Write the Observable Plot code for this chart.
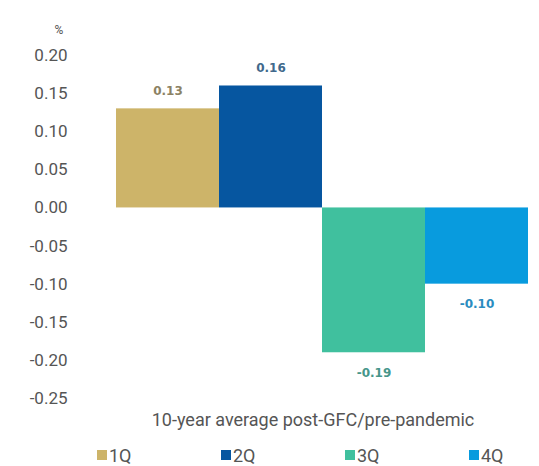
<!DOCTYPE html>
<html>
<head>
<meta charset="utf-8">
<script src="https://cdn.jsdelivr.net/npm/d3@7"></script>
<script src="https://cdn.jsdelivr.net/npm/@observablehq/plot@0.6"></script>
<style>
  body { margin: 0; background: #fff; font-family: Roboto, sans-serif; }
  #chart { width: 539px; }
  .qleg-swatches {
    font-family: Roboto, sans-serif;
    font-size: 18px;
    color: #555;
    margin: 0 0 0 97px;
    min-height: 0;
    height: 30px;
    flex-wrap: nowrap;
    align-items: center;
  }
  .qleg-swatches .qleg-swatch { flex: 0 0 auto; width: 124px; margin-right: 0; }
  .qleg-swatches .qleg-swatch:last-child { width: 50px; }
  .qleg-swatch > svg { margin-right: 2px; }
</style>
</head>
<body>
<div id="chart"></div>
<script>
// Quarterly deviation, 10-year average post-GFC / pre-pandemic (%)
const quarters = ["1Q", "2Q", "3Q", "4Q"];
const values = [0.13, 0.16, -0.19, -0.10];
const barColors = ["#cdb469", "#0656a0", "#40c09e", "#089bde"];
const labelColors = ["#8c8264", "#41698c", "#46968a", "#2a8cc0"];
const yTicks = [0.20, 0.15, 0.10, 0.05, 0.00, -0.05, -0.10, -0.15, -0.20, -0.25];
const unitLabel = "%";
const xTitle = "10-year average post-GFC/pre-pandemic";

const rows = quarters.map((q, i) => ({
  quarter: q,
  value: values[i],
  barColor: barColors[i],
  labelColor: labelColors[i]
}));
const positive = rows.filter(d => d.value >= 0);
const negative = rows.filter(d => d.value < 0);

const labelStyle = {
  x: "quarter",
  y: "value",
  text: d => d.value.toFixed(2),
  fill: "labelColor",
  fontFamily: "DejaVu Sans",
  fontWeight: "bold",
  fontSize: 12
};

const plot = Plot.plot({
  width: 539,
  height: 440,
  marginTop: 55,
  marginBottom: 42,
  marginLeft: 114,
  marginRight: 10,
  style: { fontFamily: "Roboto, sans-serif", background: "#fff", color: "#555", overflow: "visible" },
  x: { domain: quarters, padding: 0, axis: null },
  y: { domain: [-0.25, 0.2] },
  color: { type: "identity" },
  marks: [
    Plot.barY(rows, { x: "quarter", y: "value", fill: "barColor" }),
    Plot.axisY({
      ticks: yTicks,
      tickSize: 0,
      tickPadding: 47,
      tickFormat: d => d.toFixed(2),
      fontSize: 17,
      label: null
    }),
    Plot.text(positive, { ...labelStyle, dy: -18 }),
    Plot.text(negative, { ...labelStyle, dy: 20 }),
    Plot.text([unitLabel], { text: d => d, frameAnchor: "top-left", dx: -60, dy: -30, fontSize: 12 }),
    Plot.text([xTitle], { text: d => d, frameAnchor: "bottom", dx: -9, dy: 27, fontSize: 18 })
  ]
});

const legend = Plot.legend({
  color: { domain: quarters, range: barColors },
  legend: "swatches",
  swatchSize: 10,
  className: "qleg"
});

const chart = document.getElementById("chart");
chart.appendChild(plot);
chart.appendChild(legend);
</script>
</body>
</html>
